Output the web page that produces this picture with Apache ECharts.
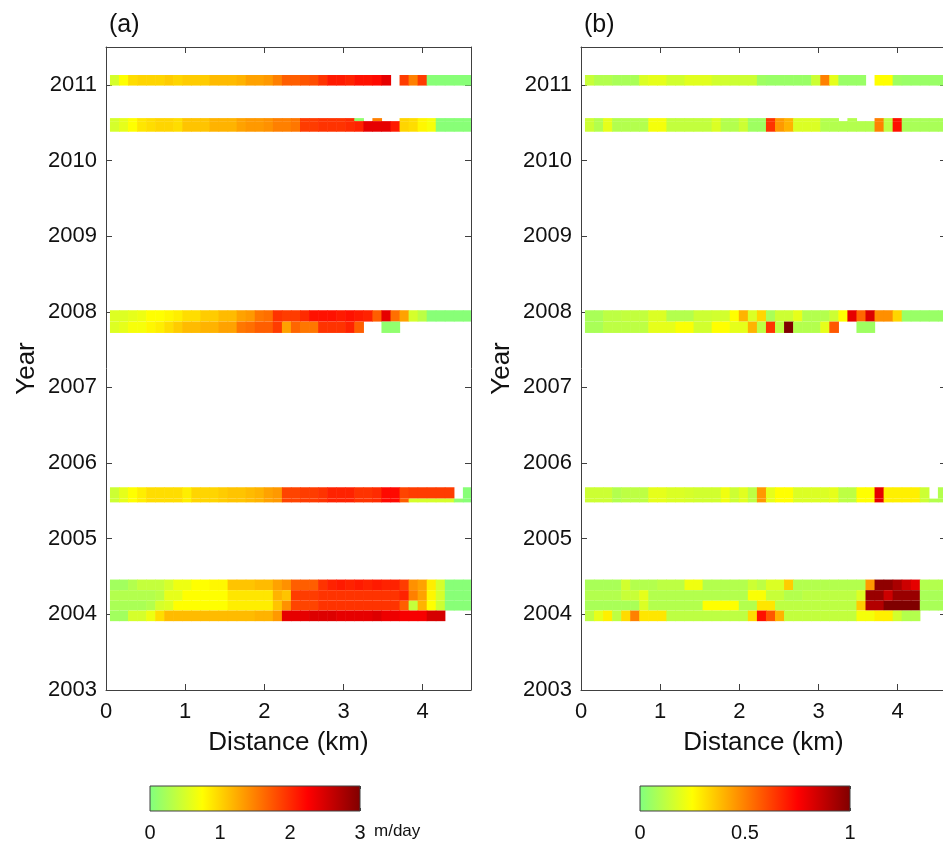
<!DOCTYPE html>
<html>
<head>
<meta charset="utf-8">
<script src="https://cdn.jsdelivr.net/npm/echarts@6/dist/echarts.min.js"></script>
<style>
  html, body { margin: 0; padding: 0; background: #fff; }
  #chart { width: 943px; height: 848px; }
</style>
</head>
<body>
<div id="chart"></div>
<script>
const FONT = '"Liberation Sans", Arial, sans-serif';
const AXIS_COLOR = '#404040';

// distance bins along the profile (km)
const binStartKm = 0.05;
const binWidthKm = 0.1143;

const xTicks = [0, 1, 2, 3, 4];
const yTicks = [2003, 2004, 2005, 2006, 2007, 2008, 2009, 2010, 2011];
const cbarTicksA = [0, 1, 2, 3];
const cbarTicksB = [0, 0.5, 1];

// time span (top, bottom) of each acquisition row, decimal years
const rowYears = [
  [2011.13, 2010.99],
  [2010.56, 2010.52],
  [2010.52, 2010.38],
  [2008.02, 2007.87],
  [2007.87, 2007.72],
  [2005.68, 2005.53],
  [2005.53, 2005.48],
  [2004.46, 2004.32],
  [2004.32, 2004.18],
  [2004.18, 2004.05],
  [2004.05, 2003.91]
];

// (a) velocity, m/day
const a2011 = [0.5, 0.75, 0.95, 1.0, 1.0, 1.0, 1.05, 1.0, 1.05, 1.05, 1.05, 1.15, 1.15, 1.15, 1.2, 1.3, 1.3, 1.35, 1.5, 1.7, 1.7, 1.75, 1.8, 1.95, 2.1, 2.1, 2.05, 2.15, 2.15, 2.2, 2.4, null, 1.9, 1.5, 1.9, 0.05, 0.05, 0.05, 0.05, 0.05];
const a2010top = [0.5, 0.6, 0.75, 0.9, 0.95, 1.0, 1.0, 0.95, 1.1, 1.1, 1.1, 1.2, 1.2, 1.2, 1.3, 1.35, 1.35, 1.4, 1.5, 1.5, 1.55, 1.9, 1.9, 1.95, 1.95, 1.95, 2.0, 0.1, null, 1.5, null, null, 1.0, 0.95, 0.8, 0.7, 0.05, 0.05, 0.05, 0.05];
const a2010 = [0.5, 0.6, 0.75, 0.9, 0.95, 1.0, 1.0, 0.95, 1.1, 1.1, 1.1, 1.2, 1.2, 1.2, 1.3, 1.35, 1.35, 1.4, 1.5, 1.5, 1.55, 1.9, 1.9, 1.95, 1.95, 1.95, 2.0, 2.05, 2.4, 2.4, 2.4, 2.1, 1.0, 0.95, 0.8, 0.7, 0.05, 0.05, 0.05, 0.05];
const a2008top = [0.55, 0.55, 0.6, 0.65, 0.75, 0.75, 0.8, 0.85, 0.95, 0.95, 1.05, 1.05, 1.15, 1.15, 1.3, 1.35, 1.55, 1.6, 1.95, 1.9, 1.9, 2.0, 2.15, 2.15, 2.15, 2.1, 2.15, 2.1, 2.05, 1.7, 2.4, 1.6, 1.3, 0.5, 0.35, 0.05, 0.05, 0.05, 0.05, 0.05];
const a2008bot = [0.55, 0.6, 0.7, 0.7, 0.8, 0.85, 0.95, 1.05, 1.15, 1.15, 1.2, 1.2, 1.3, 1.3, 1.55, 1.6, 1.7, 1.7, 1.9, 1.3, 1.65, 1.55, 1.55, 1.95, 1.95, 1.95, 2.05, 1.7, null, null, 0.1, 0.1, null, null, null, null, null, null, null, null];
const a2005top = [0.45, 0.6, 0.75, 0.85, 0.95, 0.95, 0.95, 0.95, 0.85, 1.0, 1.0, 1.0, 1.05, 1.1, 1.1, 1.15, 1.2, 1.3, 1.35, 1.85, 1.85, 1.9, 1.9, 1.95, 2.05, 2.05, 2.05, 1.95, 1.95, 2.0, 2.2, 2.2, 1.85, 1.9, 1.9, 1.9, 1.9, 1.9, null, 0.05];
const a2005bot = [0.45, 0.6, 0.75, 0.85, 0.95, 0.95, 0.95, 0.95, 0.85, 1.0, 1.0, 1.0, 1.05, 1.1, 1.1, 1.15, 1.2, 1.3, 1.35, 1.85, 1.85, 1.9, 1.9, 1.95, 2.05, 2.05, 2.05, 1.95, 1.95, 2.0, 2.2, 2.2, 1.7, 0.5, 0.5, 0.5, 0.5, 0.5, 0.1, 0.05];
const a2004r1 = [0.2, 0.2, 0.3, 0.4, 0.4, 0.4, 0.5, 0.65, 0.65, 0.75, 0.75, 0.8, 0.8, 1.1, 1.1, 1.1, 1.15, 1.15, 1.3, 1.4, 1.7, 1.7, 1.7, 1.95, 2.05, 2.1, 2.05, 2.1, 2.05, 2.1, 2.05, 2.05, 1.9, 1.4, 1.3, 0.85, 0.5, 0.05, 0.05, 0.05];
const a2004r2 = [0.3, 0.3, 0.3, 0.3, 0.3, 0.35, 0.6, 0.6, 0.75, 0.75, 0.75, 0.75, 0.75, 0.9, 0.9, 0.9, 0.9, 0.9, 1.2, 1.1, 1.9, 1.9, 1.9, 1.95, 1.95, 1.95, 1.95, 1.95, 1.95, 1.95, 1.95, 1.95, 2.05, 1.5, 1.3, 0.8, 0.5, 0.05, 0.05, 0.05];
const a2004r3 = [0.25, 0.25, 0.25, 0.25, 0.3, 0.5, 0.55, 0.75, 0.75, 0.75, 0.75, 0.75, 0.75, 0.85, 0.85, 0.85, 0.85, 0.85, 1.1, 1.4, 1.85, 1.85, 1.85, 1.95, 1.95, 1.95, 1.95, 1.95, 1.95, 1.95, 1.95, 1.95, 1.7, 0.4, 1.2, 0.75, 0.45, 0.05, 0.05, 0.05];
const a2004r4 = [0.2, 0.2, 0.5, 0.5, 0.65, 0.95, 1.15, 1.15, 1.15, 1.15, 1.15, 1.15, 1.15, 1.15, 1.15, 1.15, 1.2, 1.2, 1.35, 2.4, 2.4, 2.4, 2.45, 2.45, 2.45, 2.4, 2.4, 2.4, 2.4, 2.45, 2.35, 2.35, 2.3, 2.3, 2.3, 2.5, 2.5, null, null, null];

// (b)
const b2011 = [0.14, 0.1, 0.1, 0.08, 0.08, 0.08, 0.18, 0.2, 0.2, 0.16, 0.16, 0.19, 0.19, 0.19, 0.16, 0.16, 0.15, 0.15, 0.15, 0.06, 0.05, 0.05, 0.05, 0.05, 0.05, 0.15, 0.5, 0.2, 0.05, 0.05, 0.05, null, 0.25, 0.25, 0.06, 0.05, 0.05, 0.05, 0.05, 0.05];
const b2010top = [0.15, 0.1, 0.2, 0.1, 0.1, 0.1, 0.1, 0.23, 0.23, 0.13, 0.13, 0.13, 0.13, 0.13, 0.18, 0.1, 0.1, 0.15, 0.06, 0.06, 0.65, 0.45, 0.4, 0.18, 0.18, 0.18, 0.1, 0.1, null, 0.1, null, null, 0.5, 0.12, 0.72, 0.08, 0.08, 0.08, 0.08, 0.08];
const b2010 = [0.15, 0.1, 0.2, 0.1, 0.1, 0.1, 0.1, 0.23, 0.23, 0.13, 0.13, 0.13, 0.13, 0.13, 0.18, 0.1, 0.1, 0.15, 0.06, 0.06, 0.65, 0.45, 0.4, 0.18, 0.18, 0.18, 0.1, 0.1, 0.1, 0.1, 0.1, 0.1, 0.5, 0.12, 0.72, 0.08, 0.08, 0.08, 0.08, 0.08];
const b2008top = [0.08, 0.08, 0.12, 0.12, 0.13, 0.13, 0.13, 0.18, 0.18, 0.1, 0.1, 0.1, 0.15, 0.15, 0.16, 0.16, 0.25, 0.4, 0.18, 0.33, 0.08, 0.15, 0.15, 0.2, 0.1, 0.1, 0.1, 0.15, 0.25, 0.8, 0.55, 0.82, 0.47, 0.47, 0.33, 0.05, 0.05, 0.05, 0.05, 0.05];
const b2008bot = [0.08, 0.08, 0.12, 0.12, 0.12, 0.12, 0.12, 0.2, 0.2, 0.2, 0.24, 0.24, 0.16, 0.16, 0.25, 0.25, 0.2, 0.2, 0.4, 0.12, 0.65, 0.12, 1.0, 0.1, 0.1, 0.1, 0.2, 0.58, null, null, 0.06, 0.06, null, null, null, null, null, null, null, null];
const b2005top = [0.15, 0.15, 0.15, 0.1, 0.12, 0.12, 0.12, 0.2, 0.2, 0.18, 0.18, 0.17, 0.16, 0.16, 0.16, 0.22, 0.15, 0.19, 0.12, 0.45, 0.2, 0.25, 0.25, 0.18, 0.18, 0.18, 0.18, 0.2, 0.12, 0.12, 0.25, 0.25, 0.8, 0.28, 0.28, 0.28, 0.28, 0.15, null, 0.1];
const b2005bot = [0.15, 0.15, 0.15, 0.1, 0.12, 0.12, 0.12, 0.2, 0.2, 0.18, 0.18, 0.17, 0.16, 0.16, 0.16, 0.22, 0.15, 0.19, 0.12, 0.45, 0.2, 0.25, 0.25, 0.18, 0.18, 0.18, 0.18, 0.2, 0.12, 0.12, 0.25, 0.25, 0.8, 0.28, 0.28, 0.28, 0.28, 0.15, 0.1, 0.1];
const b2004r1 = [0.08, 0.08, 0.08, 0.08, 0.16, 0.1, 0.1, 0.1, 0.12, 0.12, 0.12, 0.22, 0.22, 0.1, 0.1, 0.1, 0.1, 0.1, 0.15, 0.12, 0.18, 0.18, 0.35, 0.1, 0.1, 0.1, 0.1, 0.1, 0.1, 0.1, 0.1, 0.45, 0.97, 0.97, 0.92, 0.85, 0.8, 0.1, 0.1, 0.1];
const b2004r2 = [0.1, 0.1, 0.1, 0.1, 0.14, 0.14, 0.2, 0.1, 0.1, 0.1, 0.1, 0.1, 0.1, 0.1, 0.1, 0.1, 0.1, 0.1, 0.24, 0.24, 0.14, 0.14, 0.1, 0.1, 0.12, 0.12, 0.12, 0.12, 0.12, 0.12, 0.18, 0.95, 0.95, 0.85, 0.95, 0.95, 0.95, 0.08, 0.08, 0.08];
const b2004r3 = [0.08, 0.08, 0.08, 0.08, 0.08, 0.08, 0.18, 0.1, 0.1, 0.1, 0.1, 0.1, 0.1, 0.25, 0.25, 0.25, 0.25, 0.1, 0.1, 0.3, 0.3, 0.12, 0.12, 0.12, 0.12, 0.12, 0.12, 0.12, 0.12, 0.12, 0.35, 0.9, 0.9, 1.0, 1.0, 1.0, 1.0, 0.08, 0.08, 0.08];
const b2004r4 = [0.12, 0.2, 0.28, 0.12, 0.32, 0.5, 0.3, 0.3, 0.3, 0.12, 0.12, 0.12, 0.12, 0.12, 0.12, 0.12, 0.12, 0.12, 0.32, 0.72, 0.58, 0.4, 0.13, 0.13, 0.13, 0.13, 0.13, 0.13, 0.13, 0.13, 0.23, 0.23, 0.28, 0.28, 0.16, 0.1, 0.1, null, null, null];

const rowsA = [a2011, a2010top, a2010, a2008top, a2008bot, a2005top, a2005bot, a2004r1, a2004r2, a2004r3, a2004r4];
const rowsB = [b2011, b2010top, b2010, b2008top, b2008bot, b2005top, b2005bot, b2004r1, b2004r2, b2004r3, b2004r4];

const colormap = ['#80ff80', '#ffff00', '#ff8000', '#ff0000', '#800000'];

function toCells(rows) {
  const out = [];
  rows.forEach((vals, r) => {
    vals.forEach((v, i) => {
      if (v == null) return;
      const x0 = binStartKm + i * binWidthKm;
      out.push([x0, x0 + binWidthKm, rowYears[r][1], rowYears[r][0], v]);
    });
  });
  return out;
}

function renderCell(params, api) {
  const p0 = api.coord([api.value(0), api.value(2)]);
  const p1 = api.coord([api.value(1), api.value(3)]);
  return {
    type: 'rect',
    shape: { x: p0[0], y: p1[1], width: p1[0] - p0[0] + 0.6, height: p0[1] - p1[1] },
    style: { fill: api.visual('color') }
  };
}

function renderBar(params, api) {
  const p0 = api.coord([api.value(0), api.value(2)]);
  const p1 = api.coord([api.value(1), api.value(3)]);
  const stops = colormap.map((c, k) => ({ offset: k / (colormap.length - 1), color: c }));
  return {
    type: 'rect',
    shape: { x: p0[0], y: p1[1], width: p1[0] - p0[0], height: p0[1] - p1[1] },
    style: { fill: new echarts.graphic.LinearGradient(0, 0, 1, 0, stops), stroke: AXIS_COLOR, lineWidth: 1 }
  };
}

const plain = v => String(v);
const tickLabel = { fontFamily: FONT, fontSize: 22, color: '#111', formatter: plain };

function mainX(grid, pos) {
  const bottom = pos === 'bottom';
  return {
    type: 'value', gridIndex: grid, position: pos, min: 0, max: 4.61,
    axisLine: { show: true, onZero: false, lineStyle: { color: AXIS_COLOR } },
    axisTick: { show: true, inside: true, length: 6, customValues: xTicks, lineStyle: { color: AXIS_COLOR } },
    axisLabel: bottom ? Object.assign({ margin: 11, customValues: xTicks }, tickLabel) : { show: false },
    splitLine: { show: false },
    name: bottom ? 'Distance (km)' : '',
    nameLocation: 'middle', nameGap: 40,
    nameTextStyle: { fontFamily: FONT, fontSize: 26, color: '#111' }
  };
}

function mainY(grid, pos) {
  const left = pos === 'left';
  return {
    type: 'value', gridIndex: grid, position: pos, min: 2003, max: 2011.5,
    axisLine: { show: true, onZero: false, lineStyle: { color: AXIS_COLOR } },
    axisTick: { show: true, inside: true, length: 6, customValues: yTicks, lineStyle: { color: AXIS_COLOR } },
    axisLabel: left ? Object.assign({ margin: 9, customValues: yTicks }, tickLabel) : { show: false },
    splitLine: { show: false },
    name: left ? 'Year' : '',
    nameLocation: 'middle', nameGap: 66,
    nameTextStyle: { fontFamily: FONT, fontSize: 26, color: '#111' }
  };
}

function barX(grid, pos, max, ticks) {
  const bottom = pos === 'bottom';
  return {
    type: 'value', gridIndex: grid, position: pos, min: 0, max: max,
    axisLine: { show: false },
    axisTick: { show: true, inside: true, length: 3, customValues: ticks, lineStyle: { color: AXIS_COLOR } },
    axisLabel: bottom ? { margin: 12, customValues: ticks, fontFamily: FONT, fontSize: 20, color: '#111', formatter: plain } : { show: false },
    splitLine: { show: false }
  };
}

function barY(grid) {
  return { type: 'value', gridIndex: grid, min: 0, max: 1, show: false };
}

const chart = echarts.init(document.getElementById('chart'), null, { renderer: 'canvas' });

chart.setOption({
  backgroundColor: '#fff',
  animation: false,
  title: [
    { text: '(a)', left: 104, top: 8, textStyle: { fontFamily: FONT, fontSize: 25, fontWeight: 'normal', color: '#111' } },
    { text: '(b)', left: 579, top: 8, textStyle: { fontFamily: FONT, fontSize: 25, fontWeight: 'normal', color: '#111' } }
  ],
  grid: [
    { left: 106, top: 47, width: 365, height: 643, outerBoundsMode: 'none' },
    { left: 581, top: 47, width: 365, height: 643, outerBoundsMode: 'none' },
    { left: 150, top: 786, width: 210, height: 25, outerBoundsMode: 'none' },
    { left: 640, top: 786, width: 210, height: 25, outerBoundsMode: 'none' }
  ],
  xAxis: [
    mainX(0, 'bottom'), mainX(0, 'top'),
    mainX(1, 'bottom'), mainX(1, 'top'),
    barX(2, 'bottom', 3, cbarTicksA), barX(2, 'top', 3, cbarTicksA),
    barX(3, 'bottom', 1, cbarTicksB), barX(3, 'top', 1, cbarTicksB)
  ],
  yAxis: [
    mainY(0, 'left'), mainY(0, 'right'),
    mainY(1, 'left'), mainY(1, 'right'),
    barY(2), barY(3)
  ],
  visualMap: [
    { type: 'continuous', show: false, seriesIndex: 0, dimension: 4, min: 0, max: 3, inRange: { color: colormap } },
    { type: 'continuous', show: false, seriesIndex: 1, dimension: 4, min: 0, max: 1, inRange: { color: colormap } }
  ],
  graphic: [
    { type: 'text', left: 374, top: 823, style: { text: 'm/day', fontFamily: FONT, fontSize: 17, fill: '#111' } }
  ],
  series: [
    { type: 'custom', xAxisIndex: 0, yAxisIndex: 0, renderItem: renderCell, encode: { x: [0, 1], y: [2, 3] }, data: toCells(rowsA), clip: true },
    { type: 'custom', xAxisIndex: 2, yAxisIndex: 2, renderItem: renderCell, encode: { x: [0, 1], y: [2, 3] }, data: toCells(rowsB), clip: true },
    { type: 'custom', xAxisIndex: 4, yAxisIndex: 4, renderItem: renderBar, encode: { x: [0, 1], y: [2, 3] }, data: [[cbarTicksA[0], cbarTicksA[cbarTicksA.length - 1], 0, 1]] },
    { type: 'custom', xAxisIndex: 6, yAxisIndex: 5, renderItem: renderBar, encode: { x: [0, 1], y: [2, 3] }, data: [[cbarTicksB[0], cbarTicksB[cbarTicksB.length - 1], 0, 1]] }
  ]
});

window.addEventListener('resize', chart.resize);
</script>
</body>
</html>
